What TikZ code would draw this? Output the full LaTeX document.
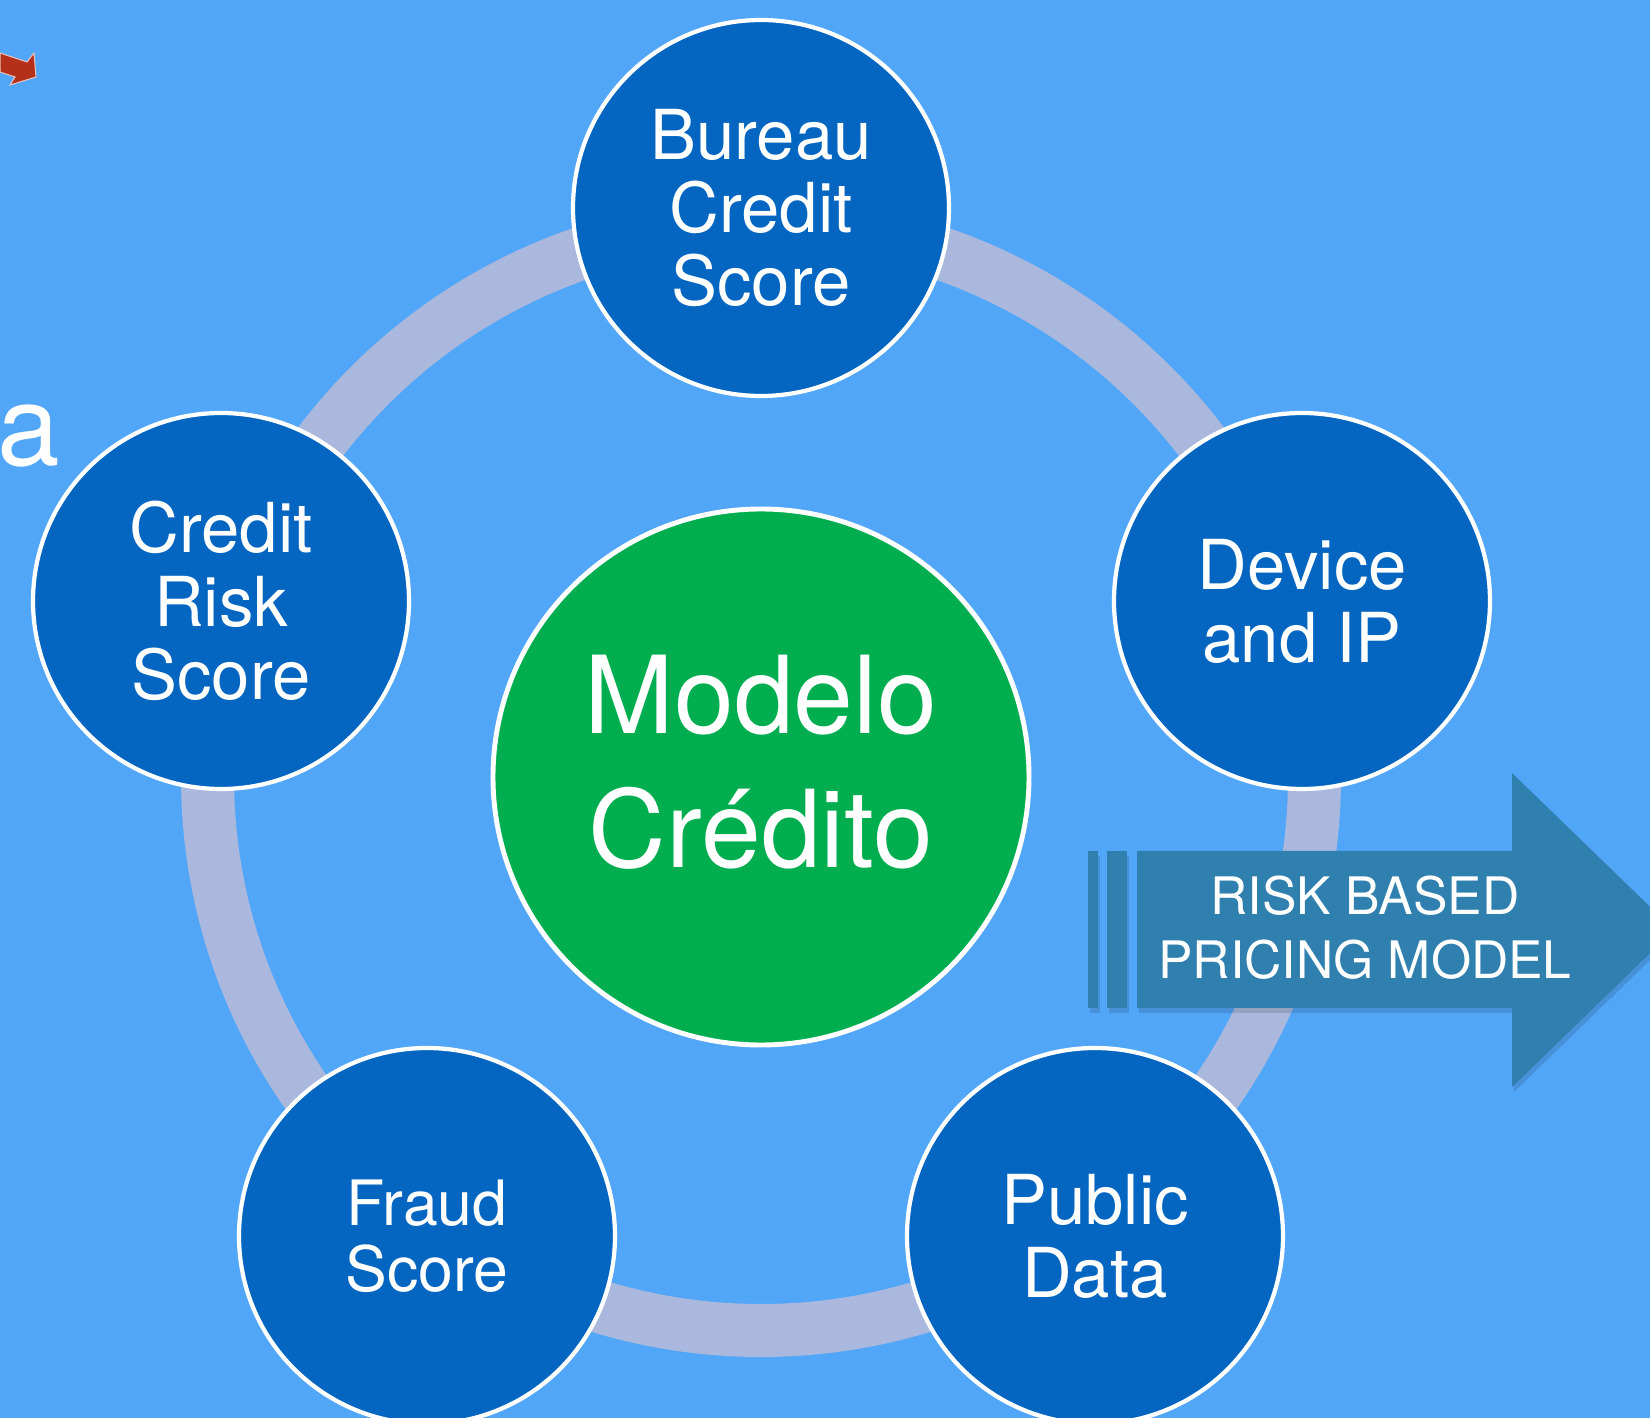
\documentclass[tikz,border=0pt]{standalone}
\usepackage{fontspec}
\setmainfont{TeX Gyre Heros}
\usepackage{tikz}
\definecolor{slidebg}{HTML}{52A6F8}
\definecolor{ringgray}{HTML}{A9B8DC}
\definecolor{sourceblue}{HTML}{0566C1}
\definecolor{modelgreen}{HTML}{00AE4F}
\definecolor{pricingblue}{HTML}{2F7FAF}
\definecolor{markerred}{HTML}{B4301A}
\tikzstyle{source}=[
        circle,
        draw=white,
        line width=1.2pt,
        fill=sourceblue,
        text=white,
        minimum size=3.76cm,
        inner sep=0pt,
        align=center,
        font=\fontsize{19.6}{20.8}\selectfont
]
\tikzstyle{core}=[
        circle,
        draw=white,
        line width=1.4pt,
        fill=modelgreen,
        text=white,
        minimum size=5.36cm,
        inner sep=0pt,
        align=center,
        font=\fontsize{30.6}{38.1}\selectfont
]
\tikzstyle{pricing}=[
        fill=pricingblue
]

\begin{document}
\begin{tikzpicture}
                    \useasboundingbox (0,0) rectangle (16.5,-14.18);
                    \fill[slidebg] (0,0) rectangle (16.5,-14.18);

                    % bits of the neighbouring slide
                    \fill[markerred, draw=white!70!markerred, line width=0.3pt]
                        (0,-0.53) -- (0.27,-0.62) -- (0.34,-0.53) -- (0.36,-0.77)
                        -- (0.10,-0.85) -- (0.15,-0.77) -- (0,-0.72) -- cycle;
                    \node[anchor=base west, inner sep=0pt, text=white,
                          font=\fontsize{32}{32}\selectfont] (fragment) at (-0.03,-4.66) {a};

                    \coordinate (hub) at (7.61,-7.77);
                    \draw[ringgray, line width=0.53cm] (hub) circle[radius=5.535cm];

                    \node[source] (bureau) at (7.61,-2.08) {Bureau\\Credit\\Score};
                    \node[source] (device) at (13.02,-6.01) {Device\\and IP};
                    \node[source] (public) at (10.95,-12.36) {Public\\Data};
                    \node[source, font=\fontsize{17.8}{18.8}\selectfont] (fraud) at (4.27,-12.36) {Fraud\\Score};
                    \node[source] (riskscore) at (2.21,-6.01) {Credit\\Risk\\Score};

                    \node[core] (modelo) at (hub) {};
                    \node[text=white, align=center, font=\fontsize{30.6}{38.1}\selectfont]
                        (modelotext) at ([yshift=0.145cm]modelo.center) {Modelo\\Cr\'edito};

                    % pricing arrow
                    \begin{scope}[shift={(0.02,-0.05)}]
                    \fill[black, opacity=0.12] (10.88,-8.51) rectangle (10.98,-10.08);
                    \fill[black, opacity=0.12] (11.07,-8.51) rectangle (11.27,-10.08);
                    \fill[black, opacity=0.12] (11.37,-8.51) -- (15.12,-8.51) -- (15.12,-7.73)
                        -- (16.74,-9.30) -- (15.12,-10.87) -- (15.12,-10.08)
                        -- (11.37,-10.08) -- cycle;
                    \end{scope}
                    \fill[pricing] (10.88,-8.51) rectangle (10.98,-10.08);
                    \fill[pricing] (11.07,-8.51) rectangle (11.27,-10.08);
                    \fill[pricing] (11.37,-8.51) -- (15.12,-8.51) -- (15.12,-7.73)
                        -- (16.74,-9.30) -- (15.12,-10.87) -- (15.12,-10.08)
                        -- (11.37,-10.08) -- cycle;
                    \node[text=white, align=center, font=\fontsize{14.7}{18.2}\selectfont]
                        (pricingtext) at (13.65,-9.28) {RISK BASED\\PRICING MODEL};
                \end{tikzpicture}
\end{document}
